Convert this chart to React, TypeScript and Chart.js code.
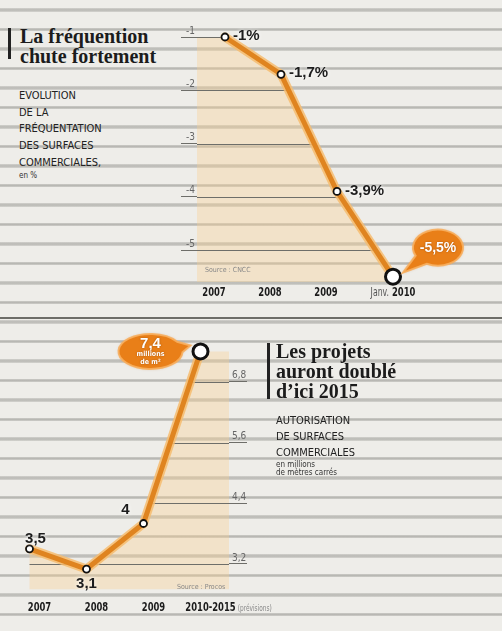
import React, { useEffect, useRef } from 'react';
import { Chart, registerables } from 'chart.js';

Chart.register(...registerables);

// ---------- DATA : top chart (fréquentation, en %) ----------
const freqCategories = ['2007', '2008', '2009', 'Janv. 2010'];
const freqValues = [-1, -1.7, -3.9, -5.5];
const freqValueLabels = ['-1%', '-1,7%', '-3,9%', '-5,5%'];
const freqTicks = [-1, -2, -3, -4, -5];

// ---------- DATA : bottom chart (autorisations, millions de m²) ----------
const projCategories = ['2007', '2008', '2009', '2010-2015 (prévisions)'];
const projValues = [3.5, 3.1, 4, 7.4];
const projValueLabels = ['3,5', '3,1', '4', '7,4'];
const projTicks = [3.2, 4.4, 5.6, 6.8];
const projUnitLines = ['millions', 'de m²'];

// ---------- STYLE ----------
type Placement = 'right' | 'above' | 'below' | 'aboveLeft' | 'bubble';
const freqPlacement: Placement[] = ['right', 'right', 'right', 'bubble'];
const projPlacement: Placement[] = ['above', 'below', 'aboveLeft', 'bubble'];

const ORANGE = '#df8420';
const ORANGE_GLOW = 'rgba(246,188,112,0.85)';
const PEACH = 'rgba(250,208,145,0.36)';
const GRID = '#6e6e69';
const BUBBLE = '#e97f18';
const NARROW = '"DejaVu Sans Condensed", "Liberation Sans Narrow", "DejaVu Sans", sans-serif';
const SANS = '"Liberation Sans", "DejaVu Sans", sans-serif';
const SERIF = '"Liberation Serif", "DejaVu Serif", serif';
const SQUEEZE = 0.72;

interface BubbleCfg {
  dx: number; dy: number; rx: number; ry: number; tipDx: number; tipDy: number;
  mainFont: string; mainDy: number; subLines: string[]; subFont: string; subDy: number[];
}
interface DecorCfg {
  id: string;
  ticks: number[];
  valueLabels: string[];
  placement: Placement[];
  extendLeft: boolean;
  extendRight: boolean;
  xLabelOffset: number;
  xLabelGap: number;
  bubble: BubbleCfg;
}

function squeezedWidth(ctx: CanvasRenderingContext2D, text: string) {
  return ctx.measureText(text).width * SQUEEZE;
}

function squeezedText(ctx: CanvasRenderingContext2D, text: string, x: number, y: number, align: 'left' | 'right' | 'center') {
  const w = squeezedWidth(ctx, text);
  let left = x;
  if (align === 'center') left = x - w / 2;
  if (align === 'right') left = x - w;
  ctx.save();
  ctx.translate(left, y);
  ctx.scale(SQUEEZE, 1);
  ctx.textAlign = 'left';
  ctx.fillText(text, 0, 0);
  ctx.restore();
  return w;
}

const MAIN_FONT = `bold 13px ${NARROW}`;
const PREFIX_FONT = `12px ${NARROW}`;
const SUFFIX_FONT = `9px ${NARROW}`;

function makeDecor(cfg: DecorCfg) {
  return {
    id: cfg.id,
    beforeDatasetsDraw(chart: any) {
      const ctx = chart.ctx as CanvasRenderingContext2D;
      const area = chart.chartArea;
      const pts = chart.getDatasetMeta(0).data.map((p: any) => ({ x: p.x, y: p.y }));
      const last = pts[pts.length - 1];
      ctx.save();
      ctx.beginPath();
      if (cfg.extendLeft) {
        ctx.moveTo(area.left, area.bottom);
        ctx.lineTo(area.left, pts[0].y);
      } else {
        ctx.moveTo(pts[0].x, area.bottom);
        ctx.lineTo(pts[0].x, pts[0].y);
      }
      pts.forEach((p: any) => ctx.lineTo(p.x, p.y));
      if (cfg.extendRight) {
        ctx.lineTo(area.right, last.y);
        ctx.lineTo(area.right, area.bottom);
      } else {
        ctx.lineTo(last.x, area.bottom);
      }
      ctx.closePath();
      ctx.fillStyle = PEACH;
      ctx.fill();
      ctx.clip();
      const yScale = chart.scales.y;
      ctx.strokeStyle = GRID;
      ctx.lineWidth = 1;
      cfg.ticks.forEach((v) => {
        const y = Math.round(yScale.getPixelForValue(v)) + 0.5;
        ctx.beginPath();
        ctx.moveTo(area.left - 30, y);
        ctx.lineTo(area.right + 30, y);
        ctx.stroke();
      });
      ctx.restore();

      // x category labels (mixed styles, condensed)
      const xScale = chart.scales.x;
      const labels: string[] = chart.data.labels;
      ctx.save();
      ctx.textBaseline = 'middle';
      labels.forEach((lab, i) => {
        const m = lab.match(/^(\D*?)\s*(\d{4}(?:-\d{4})?)\s*(.*)$/);
        const prefix = m ? m[1] : '';
        const main = m ? m[2] : lab;
        const suffix = m ? m[3] : '';
        const tickX = xScale.getPixelForValue(i);
        const y = area.bottom + cfg.xLabelGap;
        if (prefix) {
          // prefixed label: whole group centred on the tick
          ctx.font = PREFIX_FONT;
          const pw = squeezedWidth(ctx, prefix);
          ctx.font = MAIN_FONT;
          const mw = squeezedWidth(ctx, main);
          const left = tickX - (pw + 3 + mw) / 2;
          ctx.font = PREFIX_FONT;
          ctx.fillStyle = '#555';
          squeezedText(ctx, prefix, left, y, 'left');
          ctx.font = MAIN_FONT;
          ctx.fillStyle = '#1b1b1b';
          squeezedText(ctx, main, left + pw + 3, y, 'left');
          return;
        }
        const x = tickX + cfg.xLabelOffset;
        ctx.font = MAIN_FONT;
        ctx.fillStyle = '#1b1b1b';
        const w = squeezedText(ctx, main, x, y, 'center');
        if (suffix) {
          ctx.font = SUFFIX_FONT;
          ctx.fillStyle = '#888';
          squeezedText(ctx, suffix, x + w / 2 + 2, y + 1, 'left');
        }
      });
      ctx.restore();
    },
    afterDatasetsDraw(chart: any) {
      const ctx = chart.ctx as CanvasRenderingContext2D;
      const pts = chart.getDatasetMeta(0).data.map((p: any) => ({ x: p.x, y: p.y }));
      pts.forEach((pt: any, i: number) => {
        const place = cfg.placement[i];
        const text = cfg.valueLabels[i];
        ctx.save();
        if (place === 'bubble') {
          const b = cfg.bubble;
          const cx = pt.x + b.dx;
          const cy = pt.y + b.dy;
          const tipX = pt.x + b.tipDx;
          const tipY = pt.y + b.tipDy;
          const th = Math.atan2((tipY - cy) / b.ry, (tipX - cx) / b.rx);
          ctx.beginPath();
          ctx.ellipse(cx, cy, b.rx, b.ry, 0, th + 0.32, th - 0.32 + Math.PI * 2);
          ctx.lineTo(tipX, tipY);
          ctx.closePath();
          ctx.fillStyle = BUBBLE;
          ctx.strokeStyle = 'rgba(247,175,95,0.9)';
          ctx.lineWidth = 2;
          ctx.shadowColor = 'rgba(180,90,0,0.35)';
          ctx.shadowBlur = 3;
          ctx.fill();
          ctx.shadowBlur = 0;
          ctx.stroke();
          ctx.fillStyle = '#fff';
          ctx.textAlign = 'center';
          ctx.textBaseline = 'middle';
          ctx.shadowColor = 'rgba(120,50,0,0.6)';
          ctx.shadowBlur = 2;
          ctx.font = b.mainFont;
          ctx.fillText(text, cx, cy + b.mainDy);
          ctx.font = b.subFont;
          b.subLines.forEach((s, k) => ctx.fillText(s, cx, cy + b.subDy[k]));
        } else {
          ctx.font = `bold 15px ${SANS}`;
          ctx.fillStyle = '#1d1d1d';
          ctx.shadowColor = 'rgba(255,255,255,0.95)';
          ctx.shadowBlur = 4;
          if (place === 'right') {
            ctx.textAlign = 'left';
            ctx.textBaseline = 'middle';
            ctx.fillText(text, pt.x + 8, pt.y - 1);
          } else if (place === 'above') {
            ctx.textAlign = 'center';
            ctx.textBaseline = 'alphabetic';
            ctx.fillText(text, pt.x + 6, pt.y - 6);
          } else if (place === 'below') {
            ctx.textAlign = 'center';
            ctx.textBaseline = 'alphabetic';
            ctx.fillText(text, pt.x, pt.y + 19);
          } else {
            ctx.textAlign = 'right';
            ctx.textBaseline = 'alphabetic';
            ctx.fillText(text, pt.x - 14, pt.y - 10);
          }
        }
        ctx.restore();
      });
    },
  };
}

function lineDatasets(values: number[]) {
  const n = values.length;
  return [
    {
      data: values,
      borderColor: ORANGE,
      borderWidth: 5,
      borderJoinStyle: 'round' as const,
      borderCapStyle: 'round' as const,
      tension: 0,
      fill: false,
      clip: false as any,
      pointBackgroundColor: '#ffffff',
      pointBorderColor: '#111111',
      pointRadius: (c: any) => (c.dataIndex === n - 1 ? 7.5 : 3.5),
      pointBorderWidth: (c: any) => (c.dataIndex === n - 1 ? 3 : 1.8),
    },
    {
      data: values,
      borderColor: ORANGE_GLOW,
      borderWidth: 9,
      borderJoinStyle: 'round' as const,
      borderCapStyle: 'round' as const,
      tension: 0,
      fill: false,
      clip: false as any,
      pointRadius: 0,
    },
  ];
}

const fmt = (v: any) => String(v).replace('.', ',');

function topConfig(): any {
  return {
    type: 'line',
    data: { labels: freqCategories, datasets: lineDatasets(freqValues) },
    plugins: [
      makeDecor({
        id: 'decorTop',
        ticks: freqTicks,
        valueLabels: freqValueLabels,
        placement: freqPlacement,
        extendLeft: true,
        extendRight: false,
        xLabelOffset: -11,
        xLabelGap: 11,
        bubble: {
          dx: 45, dy: -29, rx: 25, ry: 18, tipDx: 10, tipDy: -4,
          mainFont: `bold 14px ${SANS}`, mainDy: 0, subLines: [], subFont: `bold 7px ${SANS}`, subDy: [],
        },
      }),
    ],
    options: {
      responsive: false,
      animation: false,
      events: [],
      layout: { autoPadding: false, padding: { left: 0, right: 60, top: 15.7, bottom: 18 } },
      plugins: { legend: { display: false }, tooltip: { enabled: false } },
      scales: {
        x: { type: 'category', offset: true, display: false },
        y: {
          position: 'left',
          min: -5.6,
          max: -0.6,
          afterBuildTicks: (s: any) => { s.ticks = freqTicks.map((v) => ({ value: v })); },
          afterFit: (s: any) => { s.width = 16; },
          border: { display: false },
          grid: { drawOnChartArea: false, drawTicks: true, tickLength: 16, color: GRID, lineWidth: 1 },
          ticks: { padding: -14, labelOffset: -6, color: '#666', font: { family: NARROW, size: 10 }, callback: fmt },
        },
      },
    },
  };
}

function botConfig(): any {
  return {
    type: 'line',
    data: { labels: projCategories, datasets: lineDatasets(projValues) },
    plugins: [
      makeDecor({
        id: 'decorBot',
        ticks: projTicks,
        valueLabels: projValueLabels,
        placement: projPlacement,
        extendLeft: false,
        extendRight: true,
        xLabelOffset: 10,
        xLabelGap: 18,
        bubble: {
          dx: -50, dy: 0, rx: 32, ry: 17.5, tipDx: -10, tipDy: -6,
          mainFont: `bold 15px ${SANS}`, mainDy: -8, subLines: projUnitLines, subFont: `bold 7px ${NARROW}`, subDy: [3, 11],
        },
      }),
    ],
    options: {
      responsive: false,
      animation: false,
      events: [],
      layout: { autoPadding: false, padding: { left: 1, right: 40, top: 11.2, bottom: 30.7 } },
      plugins: { legend: { display: false }, tooltip: { enabled: false } },
      scales: {
        x: { type: 'category', offset: true, display: false },
        y: {
          position: 'right',
          min: 2.7,
          max: 7.8,
          afterBuildTicks: (s: any) => { s.ticks = projTicks.map((v) => ({ value: v })); },
          afterFit: (s: any) => { s.width = 31; },
          border: { display: false },
          grid: { drawOnChartArea: false, drawTicks: true, tickLength: 18, color: GRID, lineWidth: 1 },
          ticks: { padding: -15, labelOffset: -6, color: '#666', font: { family: NARROW, size: 10 }, callback: fmt },
        },
      },
    },
  };
}

const stripes =
  'repeating-linear-gradient(to bottom, rgba(0,0,0,0) 0px, rgba(0,0,0,0) 8.2px, rgba(150,150,145,0.35) 8.2px, rgba(140,140,135,0.55) 10px, rgba(150,150,145,0.35) 11.6px, rgba(0,0,0,0) 11.6px, rgba(0,0,0,0) 19.5px)';

const abs = (s: React.CSSProperties): React.CSSProperties => ({ position: 'absolute', ...s });

export default function App() {
  const topRef = useRef<HTMLCanvasElement>(null);
  const botRef = useRef<HTMLCanvasElement>(null);

  useEffect(() => {
    const c1 = new Chart(topRef.current as HTMLCanvasElement, topConfig());
    const c2 = new Chart(botRef.current as HTMLCanvasElement, botConfig());
    return () => {
      c1.destroy();
      c2.destroy();
    };
  }, []);

  const titleStyle: React.CSSProperties = {
    fontFamily: SERIF, fontWeight: 700, fontSize: 20, lineHeight: '20px', color: '#1c1c1c', whiteSpace: 'nowrap',
  };
  const capsStyle: React.CSSProperties = {
    fontFamily: NARROW, fontSize: 11, color: '#222', whiteSpace: 'nowrap',
  };
  const smallStyle: React.CSSProperties = {
    fontFamily: NARROW, fontSize: 8, lineHeight: '8px', color: '#333', whiteSpace: 'nowrap',
  };

  return (
    <div
      style={{
        position: 'fixed', left: 0, top: 0, width: 502, height: 631, overflow: 'hidden',
        backgroundColor: '#eeede9', backgroundImage: stripes,
      }}
    >
      <div style={abs({ left: 0, top: 317, width: 502, height: 2, background: '#6d6d68' })} />

      {/* top block */}
      <div style={abs({ left: 8, top: 28, width: 3, height: 31, background: '#222' })} />
      <div style={abs({ left: 20, top: 26.3, ...titleStyle })}>
        La fréquention
        <br />
        chute fortement
      </div>
      <div style={abs({ left: 19, top: 88, lineHeight: '16.7px', ...capsStyle })}>
        EVOLUTION
        <br />
        DE LA
        <br />
        FRÉQUENTATION
        <br />
        DES SURFACES
        <br />
        COMMERCIALES,
      </div>
      <div style={abs({ left: 19, top: 172, ...smallStyle })}>en %</div>

      <canvas ref={topRef} width={300} height={300} style={abs({ left: 181, top: 0 })} />
      <div style={abs({ left: 205, top: 266, fontFamily: NARROW, fontSize: 7, color: '#888', whiteSpace: 'nowrap' })}>
        Source : CNCC
      </div>

      {/* bottom block */}
      <canvas ref={botRef} width={300} height={300} style={abs({ left: 0, top: 320 })} />
      <div style={abs({ left: 177, top: 583, fontFamily: NARROW, fontSize: 7, color: '#888', whiteSpace: 'nowrap' })}>
        Source : Procos
      </div>

      <div style={abs({ left: 267, top: 343, width: 3, height: 56, background: '#222' })} />
      <div style={abs({ left: 276, top: 341.3, ...titleStyle })}>
        Les projets
        <br />
        auront doublé
        <br />
        d’ici 2015
      </div>
      <div style={abs({ left: 276, top: 413, lineHeight: '16px', ...capsStyle })}>
        AUTORISATION
        <br />
        DE SURFACES
        <br />
        COMMERCIALES
      </div>
      <div style={abs({ left: 276, top: 461, ...smallStyle })}>
        en millions
        <br />
        de mètres carrés
      </div>
    </div>
  );
}
